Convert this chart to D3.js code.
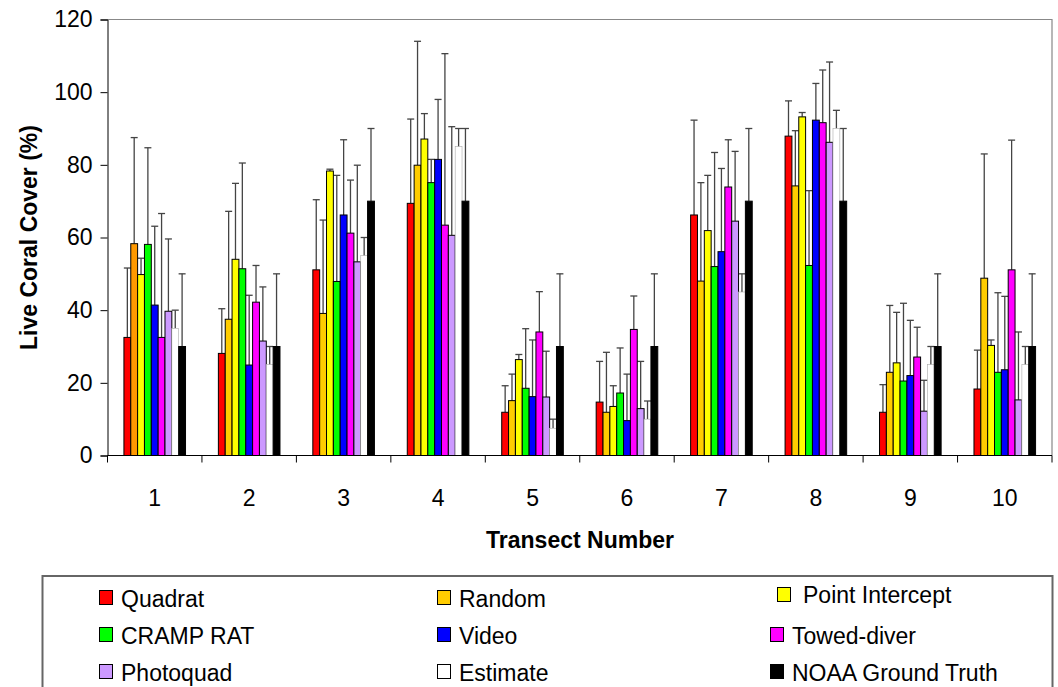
<!DOCTYPE html>
<meta charset="utf-8">
<style>
  body { margin: 0; background: #fff; }
  text { font-family: Arial, "Liberation Sans", sans-serif; }
</style>
<body></body>
<script src="https://d3js.org/d3.v7.min.js"></script>
<script>

var transects = ["1", "2", "3", "4", "5", "6", "7", "8", "9", "10"];
var methods = ["Quadrat", "Random", "Point Intercept", "CRAMP RAT", "Video",
               "Towed-diver", "Photoquad", "Estimate", "NOAA Ground Truth"];
var colors = ["#ff0000", "#ffcc00", "#ffff00", "#00ff00", "#0000ff",
              "#ff00ff", "#cc99ff", "#ffffff", "#000000"];
var yTicks = [0, 20, 40, 60, 80, 100, 120];

// mean cover per method, one value per transect
var quadrat     = [32.5, 28.1, 51.1, 69.4, 11.9, 14.7, 66.2, 87.9, 11.9, 18.3];
var random      = [58.3, 37.5, 39.1, 79.9, 15.1, 11.9, 48.0, 74.2, 22.9, 48.8];
var pointInt    = [49.8, 54.0, 78.3, 87.1, 26.4, 13.5, 61.9, 93.2, 25.5, 30.3];
var crampRat    = [58.1, 51.4, 47.9, 75.1, 18.5, 17.2, 52.0, 52.3, 20.5, 22.9];
var video       = [41.4, 24.9, 66.2, 81.5, 16.2,  9.6, 56.1, 92.3, 22.0, 23.6];
var towedDiver  = [32.5, 42.2, 61.2, 63.4, 34.0, 34.7, 73.9, 91.6, 27.1, 51.1];
var photoquad   = [39.7, 31.5, 53.3, 60.6, 16.1, 12.9, 64.5, 86.2, 12.2, 15.3];
var estimate    = [35, 25, 55, 85, 7.5, 10, 45, 90, 25, 25];
var groundTruth = [30, 30, 70, 70, 30, 30, 70, 70, 30, 30];

// upper error (sd) per method
var quadratSd     = [19.1, 12.3, 19.3, 23.2, 7.3, 11.2, 26.1, 9.7, 7.6, 10.7];
var randomSd      = [29.2, 29.7, 25.7, 34.1, 7.3, 16.5, 27.1, 15.2, 18.4, 34.2];
var pointIntSd    = [4.5, 20.9, 0.5, 7.0, 1.4, 5.7, 15.2, 1.2, 13.9, 1.5];
var crampRatSd    = [26.6, 29.1, 29.2, 6.4, 16.4, 12.4, 31.4, 20.6, 21.4, 21.9];
var videoSd       = [21.7, 19.2, 20.7, 16.5, 15.6, 12.8, 22.9, 10.1, 15.2, 20.2];
var towedDiverSd  = [34.1, 10.1, 14.6, 47.2, 11.1, 9.2, 13.0, 14.5, 8.2, 35.7];
var photoquadSd   = [19.9, 14.9, 26.6, 29.9, 12.6, 13.0, 19.2, 22.1, 8.5, 18.7];
var estimateSd    = [5, 5, 5, 5, 2.5, 5, 5, 5, 5, 5];
var groundTruthSd = [20, 20, 20, 20, 20, 20, 20, 20, 20, 20];

var values = [quadrat, random, pointInt, crampRat, video, towedDiver, photoquad, estimate, groundTruth];
var sds = [quadratSd, randomSd, pointIntSd, crampRatSd, videoSd, towedDiverSd, photoquadSd, estimateSd, groundTruthSd];

var width = 1058,
    height = 687,
    plotL = 107.5,
    plotR = 1052,
    plotT = 19.5,
    plotB = 455.5;

var svg = d3.select("body").append("svg")
    .attr("width", width)
    .attr("height", height);

var x0 = d3.scaleBand().domain(transects).range([plotL, plotR]);
var x1 = d3.scaleBand().domain(methods).range([0, x0.bandwidth()]).paddingOuter(2.4);
var y = d3.scaleLinear().domain([0, 120]).range([plotB, plotT]);

var rows = [];
transects.forEach(function(t, i) {
  methods.forEach(function(m, j) {
    rows.push({t: t, m: m, j: j, v: values[j][i], sd: sds[j][i]});
  });
});

// plot frame (top and right)
svg.append("path")
    .attr("d", "M" + plotL + "," + plotT + "H" + plotR + "V" + plotB)
    .attr("fill", "none")
    .attr("stroke", "#888")
    .attr("stroke-width", 1.2);

// error bars
var err = svg.append("g").attr("stroke", "#444").attr("stroke-width", 1.3);
rows.forEach(function(d) {
  var cx = x0(d.t) + x1(d.m) + x1.bandwidth() / 2,
      yt = y(d.v + d.sd);
  err.append("line").attr("x1", cx).attr("x2", cx).attr("y1", y(d.v)).attr("y2", yt);
  err.append("line").attr("x1", cx - 3.5).attr("x2", cx + 3.5).attr("y1", yt).attr("y2", yt);
});

// bars
svg.append("g").selectAll("rect")
    .data(rows)
  .enter().append("rect")
    .attr("x", function(d) { return x0(d.t) + x1(d.m); })
    .attr("y", function(d) { return y(d.v); })
    .attr("width", x1.bandwidth())
    .attr("height", function(d) { return y(0) - y(d.v); })
    .attr("fill", function(d) { return (d.j == 1 && d.t == "1") ? "#ff9900" : colors[d.j]; })
    .attr("stroke", function(d) { return d.j == 7 ? "#aaa" : "#000"; })
    .attr("stroke-width", function(d) { return d.j == 7 ? 0.6 : 1; });

// y axis
var yAxis = svg.append("g")
    .attr("transform", "translate(" + plotL + ",0)")
    .call(d3.axisLeft(y).tickValues(yTicks).tickSize(7).tickPadding(8));
yAxis.selectAll("text").style("font-size", "23px").attr("fill", "#000");
yAxis.selectAll("line, path").attr("stroke", "#000");

// x axis with ticks at category boundaries
var xAxis = svg.append("g")
    .attr("transform", "translate(0," + plotB + ")");
xAxis.append("line").attr("x1", plotL).attr("x2", plotR).attr("stroke", "#000");
xAxis.selectAll(".tk")
    .data(transects.concat(["end"]))
  .enter().append("line")
    .attr("x1", function(d) { return d == "end" ? plotR : x0(d); })
    .attr("x2", function(d) { return d == "end" ? plotR : x0(d); })
    .attr("y1", 0).attr("y2", 7)
    .attr("stroke", "#000");
xAxis.selectAll(".lbl")
    .data(transects)
  .enter().append("text")
    .attr("x", function(d) { return x0(d) + x0.bandwidth() / 2; })
    .attr("y", 50)
    .attr("text-anchor", "middle")
    .style("font-size", "23px")
    .text(function(d) { return d; });

// axis titles
svg.append("text")
    .attr("transform", "translate(37," + (plotT + plotB) / 2 + ") rotate(-90)")
    .attr("text-anchor", "middle")
    .style("font-size", "23px")
    .style("font-weight", "bold")
    .text("Live Coral Cover (%)");

svg.append("text")
    .attr("x", 580)
    .attr("y", 548)
    .attr("text-anchor", "middle")
    .style("font-size", "23px")
    .style("font-weight", "bold")
    .text("Transect Number");

// legend
svg.append("rect")
    .attr("x", 42.5).attr("y", 576)
    .attr("width", 1010).attr("height", 130)
    .attr("fill", "none")
    .attr("stroke", "#666")
    .attr("stroke-width", 2);

var colX = [99, 437, 770],
    rowY = [607, 644, 681];
var leg = svg.append("g").selectAll("g")
    .data(methods)
  .enter().append("g")
    .attr("transform", function(d, i) {
      var dx = i == 2 ? 7 : 0, dy = i == 2 ? -3 : 0;
      return "translate(" + (colX[i % 3] + dx) + "," + (rowY[Math.floor(i / 3)] + dy) + ")";
    });
leg.append("rect")
    .attr("x", 0.5).attr("y", -16.5)
    .attr("width", 13).attr("height", 14)
    .attr("fill", function(d, i) { return colors[i]; })
    .attr("stroke", "#000");
leg.append("text")
    .attr("x", function(d, i) { return i == 2 ? 26 : 22; })
    .attr("y", function(d, i) { return i == 2 ? -1 : 0; })
    .style("font-size", "23px")
    .text(function(d) { return d; });

</script>
